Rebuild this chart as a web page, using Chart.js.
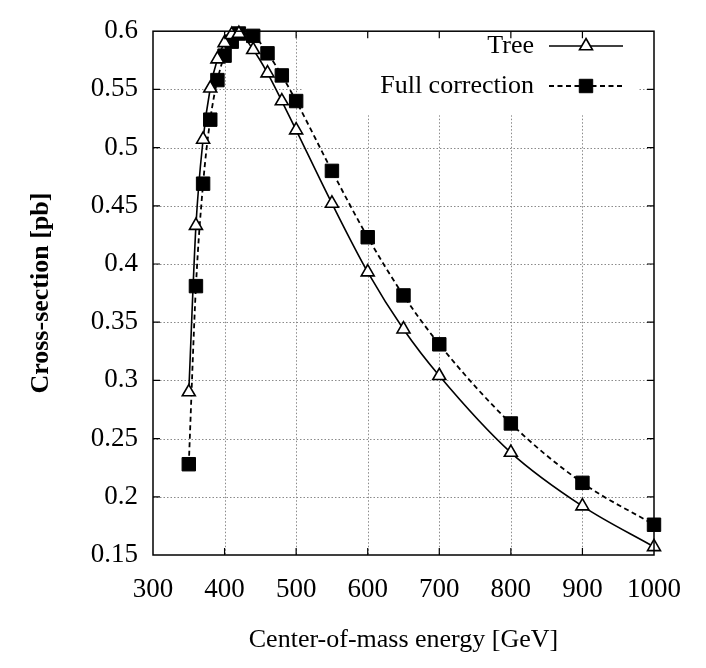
<!DOCTYPE html>
<html lang="en">
<head>
<meta charset="UTF-8">
<title>Cross-section vs energy</title>
<script src="https://cdn.jsdelivr.net/npm/chart.js"></script>
<style>
  html, body { margin: 0; padding: 0; background: #fff; }
  .wrap { width: 706px; height: 668px; position: relative; }
</style>
</head>
<body>
<div class="wrap"><canvas id="xsec"></canvas></div>
<script>
// data
const energies = [350, 360, 370, 380, 390, 400, 410, 420, 440, 460, 480, 500, 550, 600, 650, 700, 800, 900, 1000];
const treeVals = [0.290, 0.433, 0.507, 0.551, 0.576, 0.590, 0.597, 0.598, 0.584, 0.564, 0.540, 0.515, 0.452, 0.393, 0.344, 0.304, 0.238, 0.192, 0.157];
const fullVals = [0.228, 0.381, 0.469, 0.524, 0.558, 0.579, 0.591, 0.598, 0.596, 0.581, 0.562, 0.540, 0.480, 0.423, 0.373, 0.331, 0.263, 0.212, 0.176];
const xTicks = [300, 400, 500, 600, 700, 800, 900, 1000];
const yTicks = [0.15, 0.2, 0.25, 0.3, 0.35, 0.4, 0.45, 0.5, 0.55, 0.6];
const legendLabels = ['Tree', 'Full correction'];

const SERIF = "'Liberation Serif', 'DejaVu Serif', serif";

const toPoints = vals => energies.map((e, i) => ({ x: e, y: vals[i] }));

// grid, frame, inward ticks and the opaque key box
const framePlugin = {
  id: 'frame',
  beforeDatasetsDraw(chart) {
    const { ctx, chartArea: a, scales: { x, y } } = chart;
    ctx.save();
    ctx.strokeStyle = '#8a8a8a';
    ctx.lineWidth = 1;
    ctx.setLineDash([1.5, 2]);
    xTicks.slice(1, -1).forEach(v => {
      const px = Math.round(x.getPixelForValue(v)) + 0.5;
      ctx.beginPath(); ctx.moveTo(px, a.top); ctx.lineTo(px, a.bottom); ctx.stroke();
    });
    yTicks.slice(1, -1).forEach(v => {
      const py = Math.round(y.getPixelForValue(v)) + 0.5;
      ctx.beginPath(); ctx.moveTo(a.left, py); ctx.lineTo(a.right, py); ctx.stroke();
    });
    ctx.setLineDash([]);
    // key box covers the grid
    ctx.fillStyle = '#fff';
    ctx.fillRect(302, a.top + 1, a.right - 302 - 16, 83);
    ctx.restore();
  },
  afterDraw(chart) {
    const { ctx, chartArea: a, scales: { x, y } } = chart;
    ctx.save();
    ctx.strokeStyle = '#000';
    ctx.lineWidth = 1.5;
    ctx.strokeRect(a.left, a.top, a.right - a.left, a.bottom - a.top);
    ctx.lineWidth = 1.2;
    const t = 7;
    xTicks.slice(1, -1).forEach(v => {
      const px = x.getPixelForValue(v);
      ctx.beginPath();
      ctx.moveTo(px, a.bottom); ctx.lineTo(px, a.bottom - t);
      ctx.moveTo(px, a.top); ctx.lineTo(px, a.top + t);
      ctx.stroke();
    });
    yTicks.slice(1, -1).forEach(v => {
      const py = y.getPixelForValue(v);
      ctx.beginPath();
      ctx.moveTo(a.left, py); ctx.lineTo(a.left + t, py);
      ctx.moveTo(a.right, py); ctx.lineTo(a.right - t, py);
      ctx.stroke();
    });
    ctx.restore();
  }
};

// gnuplot style key: text right aligned, sample on the right
const keyPlugin = {
  id: 'key',
  afterDatasetsDraw(chart) {
    const { ctx } = chart;
    ctx.save();
    ctx.font = '26px ' + SERIF;
    ctx.textAlign = 'right';
    ctx.textBaseline = 'middle';
    const rows = [46, 86];
    chart.data.datasets.forEach((ds, i) => {
      const yy = rows[i];
      ctx.fillStyle = '#000';
      ctx.fillText(legendLabels[i], 534, yy);
      ctx.strokeStyle = '#000';
      ctx.lineWidth = ds.borderWidth;
      ctx.setLineDash(ds.borderDash || []);
      ctx.beginPath(); ctx.moveTo(549, yy); ctx.lineTo(623, yy); ctx.stroke();
      ctx.setLineDash([]);
      ctx.lineWidth = ds.pointBorderWidth;
      ctx.fillStyle = ds.pointBackgroundColor;
      ctx.strokeStyle = ds.pointBorderColor;
      Chart.helpers.drawPoint(ctx, {
        pointStyle: ds.pointStyle, radius: ds.pointRadius, rotation: 0,
        borderWidth: ds.pointBorderWidth
      }, 586, yy);
    });
    ctx.restore();
  }
};

new Chart(document.getElementById('xsec'), {
  type: 'line',
  data: {
    datasets: [
      {
        label: legendLabels[0],
        data: toPoints(treeVals),
        borderColor: '#000',
        borderWidth: 1.6,
        pointStyle: 'triangle',
        pointRadius: 7.5,
        pointBorderWidth: 1.6,
        pointBorderColor: '#000',
        pointBackgroundColor: '#fff',
        cubicInterpolationMode: 'monotone',
        clip: false,
        order: 1
      },
      {
        label: legendLabels[1],
        data: toPoints(fullVals),
        borderColor: '#000',
        borderWidth: 1.8,
        borderDash: [5, 3.5],
        pointStyle: 'rect',
        pointRadius: 9.5,
        pointBorderWidth: 1,
        pointBorderColor: '#000',
        pointBackgroundColor: '#000',
        cubicInterpolationMode: 'monotone',
        clip: false,
        order: 2
      }
    ]
  },
  options: {
    responsive: true,
    maintainAspectRatio: false,
    animation: false,
    layout: { padding: { top: 17, right: 52, bottom: 0, left: 0 } },
    plugins: { legend: { display: false }, tooltip: { enabled: false } },
    scales: {
      x: {
        type: 'linear',
        min: 300, max: 1000,
        afterBuildTicks: s => { s.ticks = xTicks.map(v => ({ value: v })); },
        afterFit: s => { s.height = 113; },
        grid: { display: false, drawTicks: false },
        border: { display: false },
        ticks: {
          color: '#000', padding: 19, font: { family: SERIF, size: 27 },
          callback: v => String(v)
        },
        title: {
          display: true, text: 'Center-of-mass energy [GeV]', color: '#000',
          font: { family: SERIF, size: 26 }, padding: { top: 0, bottom: 12 }
        }
      },
      y: {
        min: 0.15, max: 0.6,
        afterBuildTicks: s => { s.ticks = yTicks.map(v => ({ value: v })); },
        afterFit: s => { s.width = 153; },
        grid: { display: false, drawTicks: false },
        border: { display: false },
        ticks: {
          color: '#000', padding: 15, font: { family: SERIF, size: 27 },
          callback: v => String(Math.round(v * 100) / 100)
        },
        title: {
          display: true, text: 'Cross-section [pb]', color: '#000',
          font: { family: SERIF, size: 26, weight: 'bold' }, padding: { top: 26, bottom: 0 }
        }
      }
    }
  },
  plugins: [framePlugin, keyPlugin]
});
</script>
</body>
</html>
